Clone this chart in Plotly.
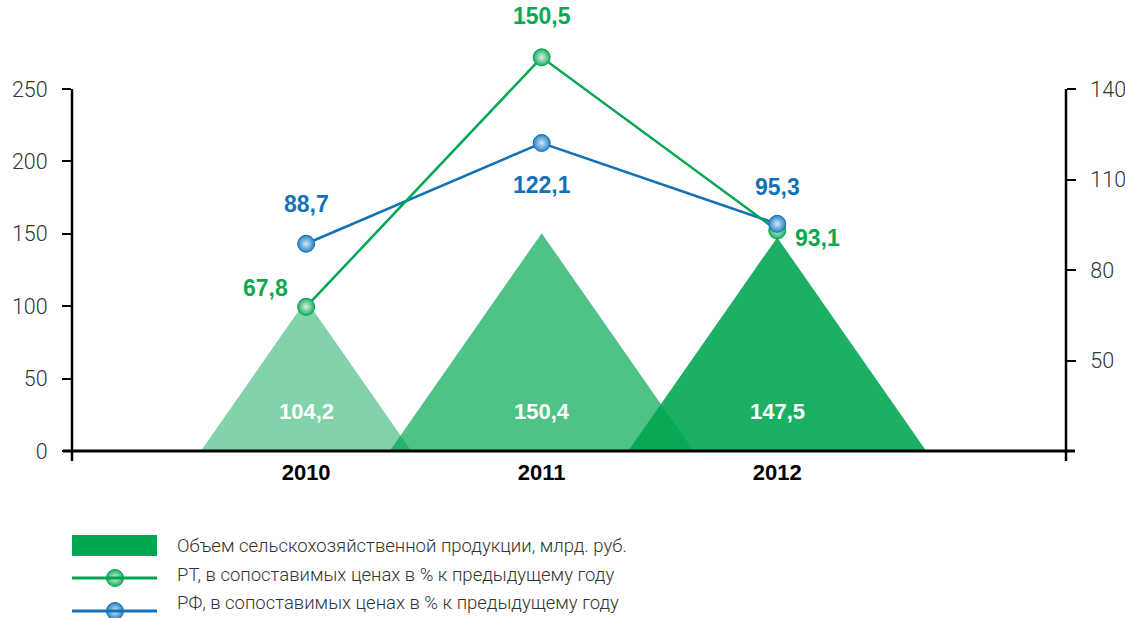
import plotly.graph_objects as go

# ---------------- data ----------------
years = ["2010", "2011", "2012"]
volume = [104.2, 150.4, 147.5]          # bln rub, left axis (triangles)
rt_pct = [67.8, 150.5, 93.1]            # RT, % to previous year, right axis
rf_pct = [88.7, 122.1, 95.3]            # RF, % to previous year, right axis
left_ticks = [0, 50, 100, 150, 200, 250]
right_ticks = [50, 80, 110, 140]
legend_labels = [
    "Объем сельскохозяйственной продукции, млрд. руб.",
    "РТ, в сопоставимых ценах в % к предыдущему году",
    "РФ, в сопоставимых ценах в % к предыдущему году",
]

# ---------------- style / geometry ----------------
W, H = 1125, 618
PL, PR, PT, PB = 72, 1066, 40, 451      # plot area in pixels
PW, PH = PR - PL, PB - PT
GREEN = "#00A651"
BLUE = "#1272B5"
GREEN_M, GREEN_HI = "#1BAE5F", "#dcf3e6"
BLUE_M, BLUE_HI = "#2582C6", "#d6e8f6"
tri_alpha = [0.49, 0.69, 0.886]
LEFT_MAX_VIS = 250
RIGHT_MIN, RIGHT_MAX_VIS = 20, 140
vis_px = 362  # pixel height of visible axes (0..250 / 20..140)
left_range = [0, LEFT_MAX_VIS * PH / vis_px]
right_range = [RIGHT_MIN, RIGHT_MIN + (RIGHT_MAX_VIS - RIGHT_MIN) * PH / vis_px]
x_range = [-0.994, 3.226]
half_w_per_unit = 0.00429

def fx(px):
    return px / W

def fy(py):
    return 1 - py / H

idx = list(range(len(years)))
fig = go.Figure()

# triangles
for i, v, a in zip(idx, volume, tri_alpha):
    hw = v * half_w_per_unit
    fig.add_trace(go.Scatter(
        x=[i - hw, i, i + hw, i - hw], y=[0, v, 0, 0],
        mode="lines", fill="toself", fillcolor=f"rgba(0,166,81,{a})",
        line=dict(width=0), hoverinfo="skip", showlegend=False,
    ))

# lines (RF below RT), then markers (RT below RF)
for vals, color in ((rf_pct, BLUE), (rt_pct, GREEN)):
    fig.add_trace(go.Scatter(x=idx, y=vals, yaxis="y2", mode="lines",
                             line=dict(color=color, width=2.5), showlegend=False))
for vals, color, mc, hi in ((rt_pct, GREEN, GREEN_M, GREEN_HI), (rf_pct, BLUE, BLUE_M, BLUE_HI)):
    fig.add_trace(go.Scatter(
        x=idx, y=vals, yaxis="y2", mode="markers",
        marker=dict(size=17, color=mc, line=dict(color=color, width=1),
                    gradient=dict(type="radial", color=hi)),
        cliponaxis=False, showlegend=False,
    ))

ann = []
# triangle value labels
for i, v in zip(idx, volume):
    ann.append(dict(x=i, y=27, xref="x", yref="y", text=f"{v:.1f}".replace(".", ","),
                    showarrow=False, font=dict(family="Liberation Sans, Arial", size=22,
                                               color="white", weight="bold")))

rf_off = [(0, 40), (0, -42), (0, 37)]
rt_off = [(-41, 19), (0, 41), (40, -8)]
for vals, offs, col in ((rf_pct, rf_off, BLUE), (rt_pct, rt_off, "#0DA84F")):
    for i, v, (dx, dy) in zip(idx, vals, offs):
        ann.append(dict(x=i, y=v, xref="x", yref="y2", text=f"{v:.1f}".replace(".", ","),
                        showarrow=False, xshift=dx, yshift=dy,
                        font=dict(family="Liberation Sans, Arial", size=23,
                                  color=col, weight="bold")))

# legend texts
for py, t in zip([546, 575, 603], legend_labels):
    ann.append(dict(x=fx(175), y=fy(py), xref="paper", yref="paper", text=t,
                    showarrow=False, xanchor="left", yanchor="middle",
                    font=dict(family="Roboto, Liberation Sans", size=18.5,
                              color="#333333", weight=300)))

# legend line markers on a full-figure helper axis pair
for py, color, mc, hi in ((578, GREEN, GREEN_M, GREEN_HI), (611, BLUE, BLUE_M, BLUE_HI)):
    fig.add_trace(go.Scatter(
        x=[115], y=[py], xaxis="x3", yaxis="y3", mode="markers",
        marker=dict(size=17, color=mc, line=dict(color=color, width=1),
                    gradient=dict(type="radial", color=hi)),
        cliponaxis=False, showlegend=False, hoverinfo="skip",
    ))

shapes = []
AXC = "black"
# x-axis line
shapes.append(dict(type="line", xref="paper", yref="paper", x0=fx(63), x1=fx(1075),
                   y0=fy(PB), y1=fy(PB), line=dict(color=AXC, width=3)))
# y-axis lines
for xp in (PL, PR):
    shapes.append(dict(type="line", xref="paper", yref="paper", x0=fx(xp), x1=fx(xp),
                       y0=fy(PB + 10), y1=fy(PB - vis_px), line=dict(color=AXC, width=2.5)))
# legend swatches
shapes.append(dict(type="rect", xref="paper", yref="paper", x0=fx(72), x1=fx(157),
                   y0=fy(556), y1=fy(535), fillcolor=GREEN, line=dict(width=0)))
shapes.append(dict(type="line", xref="paper", yref="paper", x0=fx(72), x1=fx(157),
                   y0=fy(578), y1=fy(578), line=dict(color=GREEN, width=3)))
shapes.append(dict(type="line", xref="paper", yref="paper", x0=fx(72), x1=fx(157),
                   y0=fy(611), y1=fy(611), line=dict(color=BLUE, width=3)))

tickfont = dict(family="Roboto, Liberation Sans", size=21.5, color="#333333", weight=300)
fig.update_layout(
    width=W, height=H, margin=dict(l=0, r=0, t=0, b=0),
    paper_bgcolor="white", plot_bgcolor="rgba(0,0,0,0)", showlegend=False,
    xaxis=dict(domain=[fx(PL), fx(PR)], range=x_range, tickvals=idx, ticktext=years,
               ticks="", showgrid=False, zeroline=False, showline=False, automargin=False,
               ticklabelstandoff=6, anchor="y",
               tickfont=dict(family="Liberation Sans, Arial", size=22, color="black",
                             weight="bold")),
    yaxis=dict(domain=[fy(PB), fy(PT)], range=left_range, tickvals=left_ticks,
               ticks="outside", ticklen=9, tickwidth=2, tickcolor=AXC, showgrid=False,
               zeroline=False, showline=False, tickfont=tickfont, ticklabelstandoff=10,
               automargin=False, anchor="x"),
    yaxis2=dict(range=right_range, overlaying="y", side="right", tickvals=right_ticks,
                ticks="outside", ticklen=9, tickwidth=2, tickcolor=AXC, showgrid=False,
                zeroline=False, showline=False, tickfont=tickfont, ticklabelstandoff=10,
                automargin=False, anchor="x"),
    xaxis3=dict(domain=[0, 1], range=[0, W], visible=False, fixedrange=True, anchor="y3"),
    yaxis3=dict(domain=[0, 1], range=[H, 0], visible=False, fixedrange=True, anchor="x3"),
    annotations=ann, shapes=shapes,
)

fig.write_html("out.html", config={"displayModeBar": False},
               post_script="document.body.style.margin='0';")
